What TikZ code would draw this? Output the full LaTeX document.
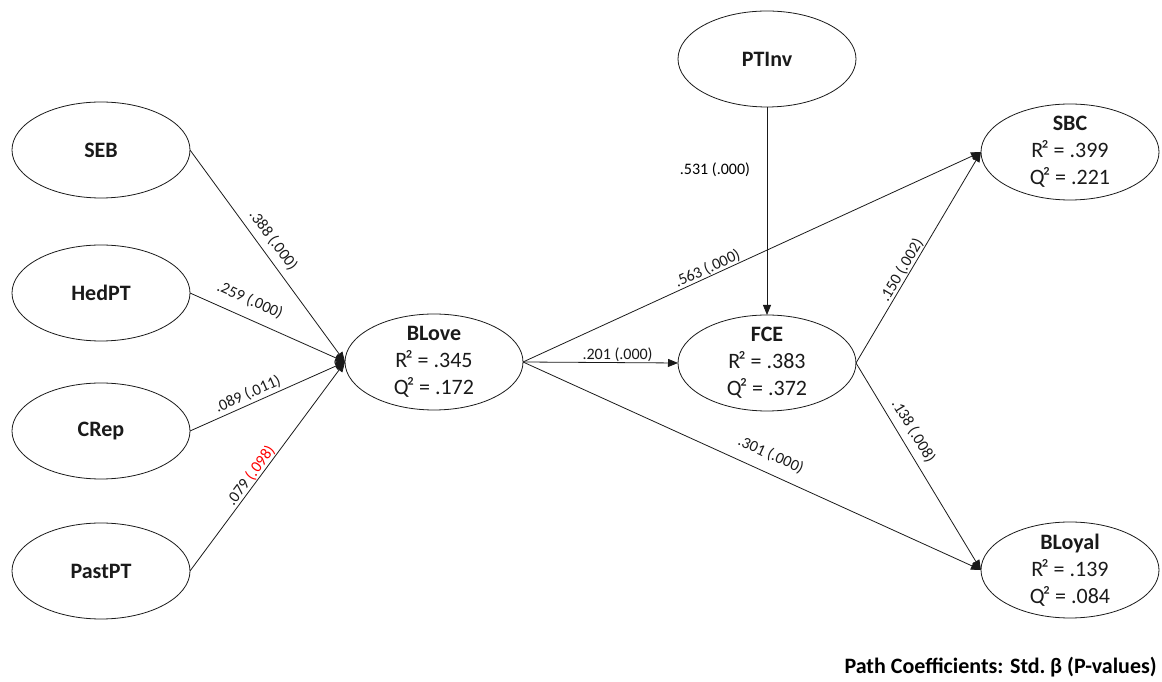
\documentclass[tikz,border=0pt]{standalone}
\usepackage{fontspec}
\setmainfont{Carlito}
\usepackage{tikz}
\usetikzlibrary{arrows.meta, positioning, shapes.geometric}
\definecolor{semblack}{HTML}{1A1A1A}
\definecolor{semred}{HTML}{FF0000}

\begin{document}
\begin{tikzpicture}[
        x=1pt, y=1pt,
        every node/.style={align=center, outer sep=0pt},
        % Elipses de 178 x 96 (unidades = px de la figura original).
        % inner ysep negativo: asi las tres lineas caben sin agrandar la elipse.
        construct/.style={ellipse, draw=semblack, line width=0.8pt,
                          minimum width=178pt, minimum height=96pt,
                          inner xsep=0pt, inner ysep=-8pt,
                          text=semblack, font=\fontsize{22}{27}\selectfont},
        link/.style={-{Triangle[length=10pt, width=8pt]},
                     draw=semblack, line width=0.8pt},
        coef/.style={sloped, inner sep=1pt, text=semblack,
                     font=\fontsize{16}{19}\selectfont}
    ]
        \useasboundingbox (0,0) rectangle (1162,682);

        \node[construct] (seb)    at (101,532)  {\textbf{SEB}};
        \node[construct] (hedpt)  at (101,389)  {\textbf{HedPT}};
        \node[construct] (crep)   at (101,251)  {\textbf{CRep}};
        \node[construct] (pastpt) at (101,111)  {\textbf{PastPT}};
        \node[construct] (blove)  at (434,320)  {\textbf{BLove}\\R\kern-2pt² = .345\\Q\kern-2pt² = .172};
        \node[construct] (ptinv)  at (767,623)  {\textbf{PTInv}};
        \node[construct] (fce)    at (767,319)  {\textbf{FCE}\\R\kern-2pt² = .383\\Q\kern-2pt² = .372};
        \node[construct] (sbc)    at (1070,530) {\textbf{SBC}\\R\kern-2pt² = .399\\Q\kern-2pt² = .221};
        \node[construct] (bloyal) at (1070,112) {\textbf{BLoyal}\\R\kern-2pt² = .139\\Q\kern-2pt² = .084};

        \draw[link] (seb.east)    -- (blove.west) node[coef, pos=0.465, above=6pt] {.388 (.000)};
        \draw[link] (hedpt.east)  -- (blove.west) node[coef, pos=0.34, above=10pt] {.259 (.000)};
        \draw[link] (crep.east)   -- (blove.west) node[coef, pos=0.40, above=2pt] {.089 (.011)};
        \draw[link] (pastpt.east) -- (blove.west) node[coef, pos=0.433, above=0pt] {.079 \textcolor{semred}{(.098)}};

        \draw[link] (blove.east) -- (sbc.west)    node[coef, pos=0.41, above=0pt] {.563 (.000)};
        \draw[link] (blove.east) -- (fce.west)    node[coef, pos=0.61, above=0pt] {.201 (.000)};
        \draw[link] (blove.east) -- (bloyal.west) node[coef, pos=0.525, above=10pt] {.301 (.000)};

        \draw[link] (ptinv.south) -- (fce.north)
            node[pos=0.30, left=16pt, inner sep=1pt, font=\fontsize{16}{19}\selectfont] {.531 (.000)};
        \draw[link] (fce.east) -- (sbc.west)    node[coef, pos=0.42, above=0pt] {.150 (.002)};
        \draw[link] (fce.east) -- (bloyal.west) node[coef, pos=0.364, above=6pt] {.138 (.008)};

        \node[anchor=east, font=\fontsize{22}{26}\selectfont\bfseries] (legend) at (1160,15)
            {Path Coefficients: Std.\kern-2pt{} β (P-values)};
    \end{tikzpicture}
\end{document}
